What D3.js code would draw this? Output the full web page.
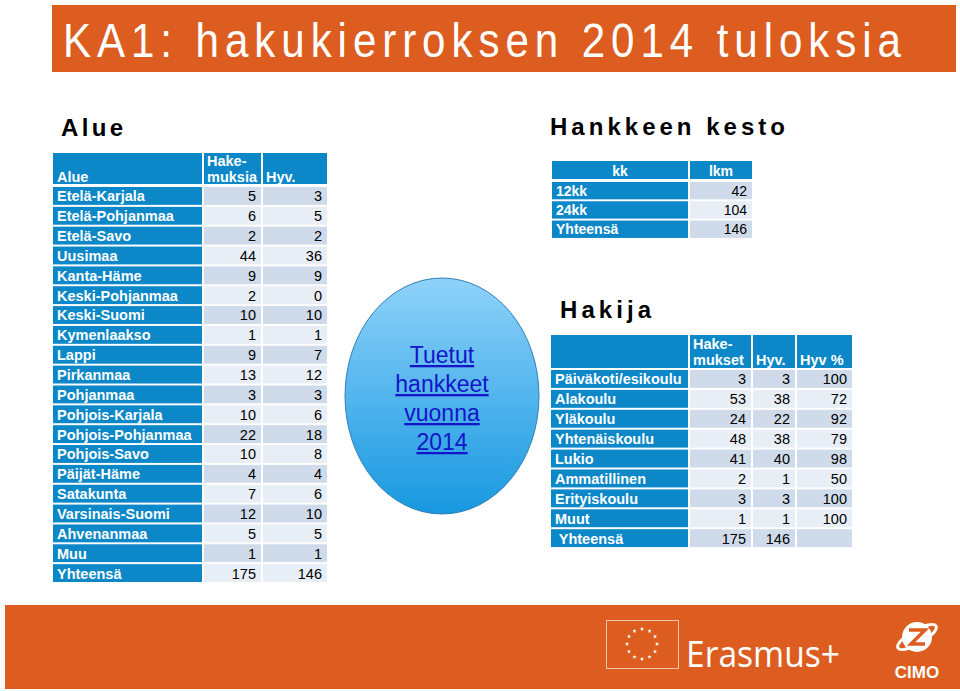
<!DOCTYPE html>
<html>
<head>
<meta charset="utf-8">
<script src="https://cdn.jsdelivr.net/npm/d3@7"></script>
<style>
  body { margin: 0; background: #fff; }
  svg text { font-family: "Liberation Sans", Arial, sans-serif; }
</style>
</head>
<body>
<svg id="slide" width="960" height="691"></svg>
<script>
// --- data ---
const alueet = ["Etelä-Karjala", "Etelä-Pohjanmaa", "Etelä-Savo", "Uusimaa", "Kanta-Häme",
  "Keski-Pohjanmaa", "Keski-Suomi", "Kymenlaakso", "Lappi", "Pirkanmaa", "Pohjanmaa",
  "Pohjois-Karjala", "Pohjois-Pohjanmaa", "Pohjois-Savo", "Päijät-Häme", "Satakunta",
  "Varsinais-Suomi", "Ahvenanmaa", "Muu", "Yhteensä"];
const alueHakemuksia = [5, 6, 2, 44, 9, 2, 10, 1, 9, 13, 3, 10, 22, 10, 4, 7, 12, 5, 1, 175];
const alueHyv = [3, 5, 2, 36, 9, 0, 10, 1, 7, 12, 3, 6, 18, 8, 4, 6, 10, 5, 1, 146];

const kestoLabels = ["12kk", "24kk", "Yhteensä"];
const kestoLkm = [42, 104, 146];

const hakijat = ["Päiväkoti/esikoulu", "Alakoulu", "Yläkoulu", "Yhtenäiskoulu", "Lukio",
  "Ammatillinen", "Erityiskoulu", "Muut", " Yhteensä"];
const hakijaHakemukset = [3, 53, 24, 48, 41, 2, 3, 1, 175];
const hakijaHyv = [3, 38, 22, 38, 40, 1, 3, 1, 146];
const hakijaPct = [100, 72, 92, 79, 98, 50, 100, 100, null];

const ellipseLines = ["Tuetut", "hankkeet", "vuonna", "2014"];

const orange = "#dc5d1f";
const blue = "#0c87c7";
const cellA = "#cfdbea";
const cellB = "#e8eef6";

const svg = d3.select("#slide");

// title bar
svg.append("rect").attr("x", 52).attr("y", 5).attr("width", 904).attr("height", 67).attr("fill", orange);
const sx = 0.86;
svg.append("text").attr("transform", `translate(63,57) scale(${sx},1)`)
  .attr("textLength", 838 / sx).attr("lengthAdjust", "spacing")
  .style("font-size", "49px").attr("fill", "#fff")
  .text("KA1: hakukierroksen 2014 tuloksia");

// section headings
function heading(x, y, w, t) {
  svg.append("text").attr("x", x).attr("y", y)
    .attr("textLength", w).attr("lengthAdjust", "spacing")
    .style("font-size", "24px").style("font-weight", "bold").attr("fill", "#000")
    .text(t);
}
heading(61, 136, 62, "Alue");
heading(550, 135, 235, "Hankkeen kesto");
heading(560, 318, 91, "Hakija");

// generic table drawer
function drawTable(opt) {
  const g = svg.append("g");
  const y = d3.scaleBand().domain(d3.range(opt.labels.length))
    .range([opt.top, opt.top + opt.labels.length * opt.pitch]).paddingInner(0.1).paddingOuter(0.05);
  const cols = opt.cols;
  cols.forEach(c => {
    g.append("rect").attr("x", c.x0).attr("y", opt.headTop)
      .attr("width", c.x1 - c.x0).attr("height", opt.headBottom - opt.headTop).attr("fill", blue);
  });
  opt.header.forEach(h => {
    g.append("text").attr("x", h.x).attr("y", h.y)
      .attr("text-anchor", h.anchor || "start")
      .style("font-size", opt.fs + "px").style("font-weight", "bold").attr("fill", "#fff").text(h.t);
  });
  opt.labels.forEach((lab, r) => {
    const y0 = y(r), bh = y.bandwidth();
    g.append("rect").attr("x", cols[0].x0).attr("y", y0).attr("width", cols[0].x1 - cols[0].x0)
      .attr("height", bh).attr("fill", blue);
    g.append("text").attr("x", cols[0].x0 + 4).attr("y", y0 + bh - 3.5)
      .style("font-size", opt.fs + "px").style("font-weight", "bold").attr("fill", "#fff")
      .attr("xml:space", "preserve").text(lab);
    opt.values.forEach((vals, k) => {
      const c = cols[k + 1];
      g.append("rect").attr("x", c.x0).attr("y", y0).attr("width", c.x1 - c.x0)
        .attr("height", bh).attr("fill", r % 2 === 0 ? cellA : cellB);
      if (vals[r] !== null && vals[r] !== undefined) {
        g.append("text").attr("x", c.x1 - 5).attr("y", y0 + bh - 3.5)
          .attr("text-anchor", "end")
          .style("font-size", opt.nfs + "px").attr("fill", "#000").text(vals[r]);
      }
    });
  });
}

drawTable({
  labels: alueet, values: [alueHakemuksia, alueHyv],
  cols: [{x0: 53, x1: 202}, {x0: 204, x1: 261}, {x0: 263, x1: 327}],
  headTop: 153, headBottom: 184, top: 186, pitch: 19.85, fs: 14.5, nfs: 14.5,
  header: [
    {t: "Alue", x: 57, y: 182},
    {t: "Hake-", x: 207, y: 166},
    {t: "muksia", x: 207, y: 182},
    {t: "Hyv.", x: 266, y: 182}
  ]
});

drawTable({
  labels: kestoLabels, values: [kestoLkm],
  cols: [{x0: 552, x1: 688}, {x0: 690, x1: 752}],
  headTop: 161, headBottom: 179, top: 181, pitch: 19.3, fs: 14, nfs: 14,
  header: [
    {t: "kk", x: 620, y: 176, anchor: "middle"},
    {t: "lkm", x: 721, y: 176, anchor: "middle"}
  ]
});

drawTable({
  labels: hakijat, values: [hakijaHakemukset, hakijaHyv, hakijaPct],
  cols: [{x0: 551, x1: 688}, {x0: 690, x1: 751}, {x0: 753, x1: 795}, {x0: 797, x1: 852}],
  headTop: 335, headBottom: 368, top: 369, pitch: 19.9, fs: 14.5, nfs: 14.5,
  header: [
    {t: "Hake-", x: 693, y: 349},
    {t: "mukset", x: 693, y: 365},
    {t: "Hyv.", x: 756, y: 365},
    {t: "Hyv %", x: 800, y: 365}
  ]
});

// ellipse
const defs = svg.append("defs");
const grad = defs.append("linearGradient").attr("id", "eg").attr("x1", 0).attr("y1", 0).attr("x2", 0).attr("y2", 1);
grad.append("stop").attr("offset", "0%").attr("stop-color", "#8fd2fa");
grad.append("stop").attr("offset", "100%").attr("stop-color", "#1798e0");
svg.append("ellipse").attr("cx", 442).attr("cy", 396).attr("rx", 97).attr("ry", 118)
  .attr("fill", "url(#eg)").attr("stroke", "#2e7fb8").attr("stroke-width", 1);
ellipseLines.forEach((t, i) => {
  svg.append("text").attr("x", 442).attr("y", 363 + i * 29)
    .attr("text-anchor", "middle").style("font-size", "23px").attr("fill", "#1414c8")
    .style("text-decoration", "underline").text(t);
});

// footer
svg.append("rect").attr("x", 5).attr("y", 605).attr("width", 955).attr("height", 84).attr("fill", orange);
svg.append("rect").attr("x", 606.5).attr("y", 620.5).attr("width", 72).attr("height", 48)
  .attr("fill", "none").attr("stroke", "#f3c7ad").attr("stroke-width", 1);
d3.range(12).forEach(i => {
  const a = i / 12 * 2 * Math.PI;
  svg.append("path")
    .attr("d", d3.symbol(d3.symbolStar, 6)())
    .attr("transform", `translate(${642 + 15 * Math.sin(a)},${644 - 15 * Math.cos(a)})`)
    .attr("fill", "#fff");
});
svg.append("text").attr("x", 686).attr("y", 667)
  .attr("textLength", 154).attr("lengthAdjust", "spacingAndGlyphs")
  .style("font-family", "'Open Sans', sans-serif").style("font-size", "37px")
  .attr("fill", "#fff").text("Erasmus+");
// CIMO logo
const cimo = svg.append("g").attr("transform", "translate(917,637)");
cimo.append("circle").attr("r", 15).attr("fill", "#fff");
cimo.append("ellipse").attr("rx", 22).attr("ry", 7).attr("transform", "rotate(-30)")
  .attr("fill", "none").attr("stroke", "#fff").attr("stroke-width", 3);
cimo.append("path").attr("d", "M-8,-7 L8,-7 L-6,7 L8,7").attr("fill", "none")
  .attr("stroke", orange).attr("stroke-width", 3.5);
svg.append("text").attr("x", 917).attr("y", 678).attr("text-anchor", "middle")
  .style("font-size", "17px").style("font-weight", "bold").attr("fill", "#fff").text("CIMO");
</script>
</body>
</html>
